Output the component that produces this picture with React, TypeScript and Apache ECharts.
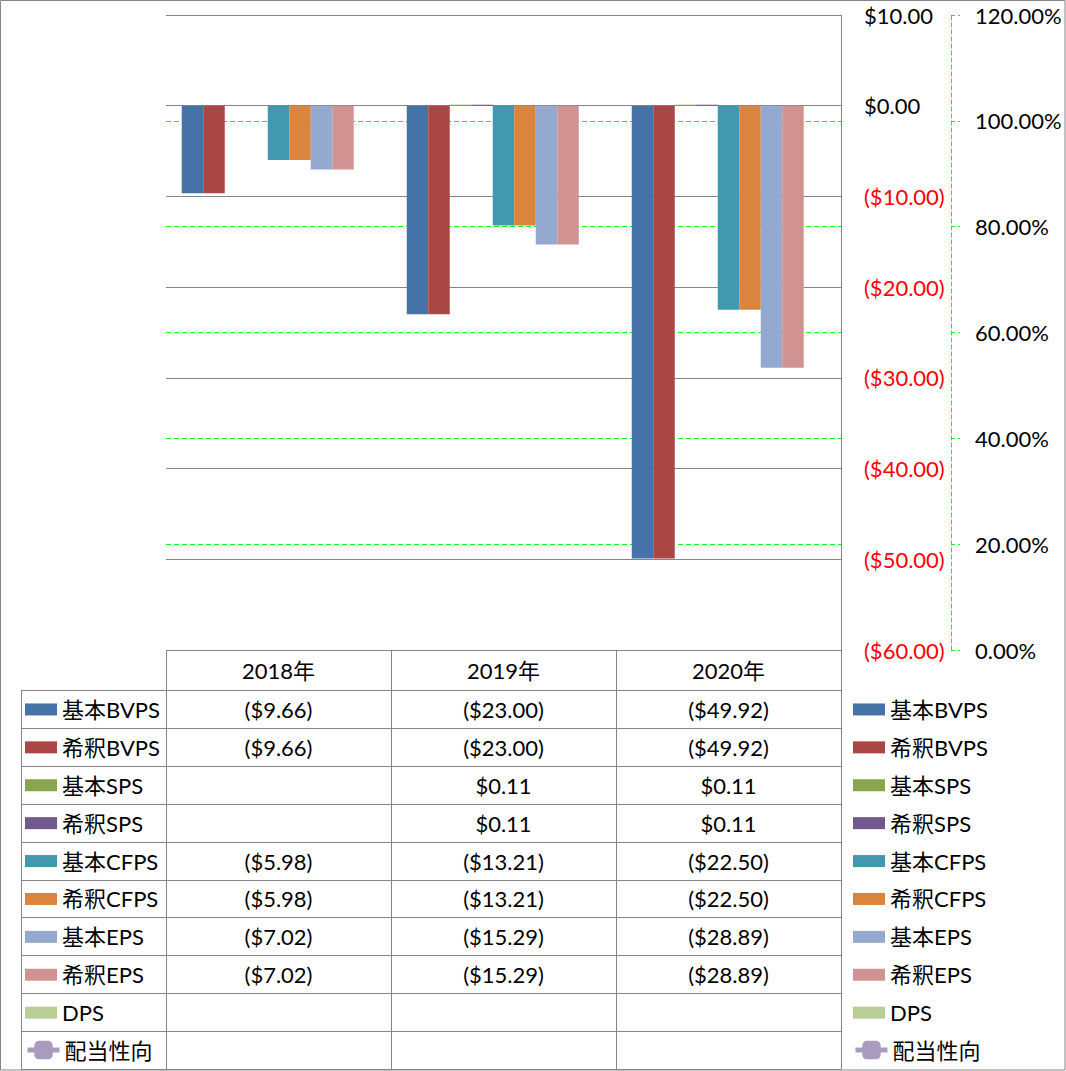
import React, { useEffect, useRef } from "react";
import * as echarts from "echarts";

// ---------- data ----------
const years = ["2018年", "2019年", "2020年"];
const barNames = ["基本BVPS", "希釈BVPS", "基本SPS", "希釈SPS", "基本CFPS", "希釈CFPS", "基本EPS", "希釈EPS", "DPS"];
const basicBVPS: (number | null)[] = [-9.66, -23.0, -49.92];
const dilutedBVPS: (number | null)[] = [-9.66, -23.0, -49.92];
const basicSPS: (number | null)[] = [null, 0.11, 0.11];
const dilutedSPS: (number | null)[] = [null, 0.11, 0.11];
const basicCFPS: (number | null)[] = [-5.98, -13.21, -22.5];
const dilutedCFPS: (number | null)[] = [-5.98, -13.21, -22.5];
const basicEPS: (number | null)[] = [-7.02, -15.29, -28.89];
const dilutedEPS: (number | null)[] = [-7.02, -15.29, -28.89];
const dps: (number | null)[] = [null, null, null];
const payoutName = "配当性向";
const payoutRatio: (number | null)[] = [null, null, null];
const barValues = [basicBVPS, dilutedBVPS, basicSPS, dilutedSPS, basicCFPS, dilutedCFPS, basicEPS, dilutedEPS, dps];
const barColors = ["#4572A7", "#AA4643", "#89A54E", "#71588F", "#4198AF", "#DB843D", "#93A9CF", "#D19392", "#B9CD96"];
const payoutColor = "#A99BBD";

const leftMin = -60;
const leftMax = 10;
const leftStep = 10;
const rightMin = 0;
const rightMax = 1.2;
const rightStep = 0.2;

// ---------- layout ----------
const W = 1066;
const H = 1071;
const plotLeft = 166;
const plotRight = 841;
const plotTop = 15;
const plotBottom = 650;
const tableLeft = 21;
const headerBottom = 690.5;
const rowH = 37.9;
const gray = "#868686";
const green = "#00FF00";
const FONT = "Lato, 'Noto Sans CJK JP', sans-serif";
const FS = 22;

const fmtMoney = (v: number) => (v < 0 ? `($${Math.abs(v).toFixed(2)})` : `$${v.toFixed(2)}`);

export default function App() {
  const ref = useRef<HTMLDivElement>(null);
  useEffect(() => {
    document.body.style.margin = "0";
    if (!ref.current) return;
    const chart = echarts.init(ref.current, undefined, { renderer: "svg" });

    const textStyle = { fontSize: FS, fontFamily: FONT, color: "#000", lineHeight: FS };
    const barLegend = {
      orient: "vertical",
      top: headerBottom + rowH / 2 - FS / 2,
      itemWidth: 32,
      itemHeight: 12,
      itemGap: rowH - FS,
      padding: 0,
      selectedMode: false,
      textStyle,
      data: barNames.map((n) => ({ name: n, icon: "rect" })),
    };
    const lineIconH = 23;
    const lineLegend = {
      orient: "vertical",
      top: headerBottom + rowH * (barNames.length + 0.5) - lineIconH / 2,
      itemWidth: 32,
      itemHeight: lineIconH,
      padding: 0,
      selectedMode: false,
      textStyle,
      data: [{ name: payoutName, lineStyle: { width: 5, color: payoutColor }, itemStyle: { color: payoutColor } }],
    };

    const series: any[] = barNames.map((n, i) => ({
      name: n,
      type: "bar",
      data: barValues[i],
      itemStyle: { color: barColors[i] },
      barGap: "0%",
      barCategoryGap: "14%",
    }));
    series.push({
      name: payoutName,
      type: "line",
      yAxisIndex: 1,
      data: payoutRatio,
      symbol: "roundRect",
      symbolSize: 18,
      itemStyle: { color: payoutColor },
      lineStyle: { color: payoutColor, width: 5 },
    });

    chart.setOption({
      animation: false,
      backgroundColor: "#fff",
      textStyle: { fontFamily: FONT },
      grid: { left: plotLeft, right: W - plotRight, top: plotTop, bottom: H - plotBottom, containLabel: false },
      legend: [
        { ...barLegend, left: 25 },
        { ...lineLegend, left: 25 },
        { ...barLegend, left: 853 },
        { ...lineLegend, left: 853 },
      ],
      xAxis: {
        type: "category",
        data: years,
        axisLine: { show: false },
        axisTick: { show: false },
        axisLabel: {
          show: true,
          fontSize: FS,
          fontFamily: FONT,
          color: "#000",
          margin: (headerBottom - plotBottom) / 2,
          verticalAlign: "middle",
        },
      },
      yAxis: [
        {
          type: "value",
          position: "right",
          min: leftMin,
          max: leftMax,
          interval: leftStep,
          axisLine: { show: true, lineStyle: { color: gray, width: 1 } },
          axisTick: { show: false },
          splitLine: { show: true, lineStyle: { color: gray, width: 1 } },
          axisLabel: {
            margin: 23,
            fontSize: FS,
            fontFamily: FONT,
            formatter: (v: number) => fmtMoney(v),
            color: (v: any) => (Number(v) < 0 ? "#FF0000" : "#000000"),
          },
        },
        {
          type: "value",
          position: "right",
          offset: 110,
          min: rightMin,
          max: rightMax,
          interval: rightStep,
          axisLine: { show: true, lineStyle: { color: green, width: 1, type: [4, 3] } },
          axisTick: { show: true, inside: false, length: 9, lineStyle: { color: green, width: 1, type: [4, 3] } },
          splitLine: {
            show: true,
            showMinLine: false,
            showMaxLine: false,
            lineStyle: { color: green, width: 1, type: [5, 3] },
          },
          axisLabel: {
            margin: 24,
            fontSize: FS,
            fontFamily: FONT,
            color: "#000",
            formatter: (v: number) => `${(v * 100).toFixed(2)}%`,
          },
        },
      ],
      series,
    });

    // ---------- data table (graphic) ----------
    const g: any[] = [];
    const line = (x1: number, y1: number, x2: number, y2: number) =>
      g.push({ type: "line", silent: true, shape: { x1, y1, x2, y2 }, style: { stroke: gray, lineWidth: 1 }, z: 10 });
    const crisp = (v: number) => Math.round(v - 0.5) + 0.5;

    // outer border
    g.push({ type: "rect", silent: true, shape: { x: 0.5, y: 0.5, width: W - 1.5, height: H - 1.5 }, style: { fill: "none", stroke: gray, lineWidth: 1 }, z: 10 });

    const nRows = barNames.length + 1;
    const tableBottom = headerBottom + rowH * nRows;
    line(plotLeft, crisp(plotBottom), plotRight, crisp(plotBottom));
    for (let r = 0; r <= nRows; r++) {
      const y = crisp(headerBottom + rowH * r);
      line(tableLeft, y, plotRight, y);
    }
    const colEdges = [plotLeft, plotLeft + (plotRight - plotLeft) / 3, plotLeft + (2 * (plotRight - plotLeft)) / 3, plotRight];
    colEdges.forEach((x) => line(crisp(x), plotBottom, crisp(x), tableBottom));
    line(crisp(tableLeft), headerBottom, crisp(tableLeft), tableBottom);

    years.forEach((yr, c) => {
      const px = chart.convertToPixel({ xAxisIndex: 0 }, yr) as number;
      barValues.forEach((vals, r) => {
        const v = vals[c];
        if (v === null || v === undefined) return;
        g.push({
          type: "text",
          silent: true,
          x: px,
          y: headerBottom + rowH * (r + 0.5),
          z: 11,
          style: { text: fmtMoney(v), fill: "#000", fontSize: FS, fontFamily: FONT, align: "center", verticalAlign: "middle" },
        });
      });
    });

    chart.setOption({ graphic: g });

    return () => chart.dispose();
  }, []);

  return <div ref={ref} style={{ position: "fixed", left: 0, top: 0, width: W, height: H }} />;
}
